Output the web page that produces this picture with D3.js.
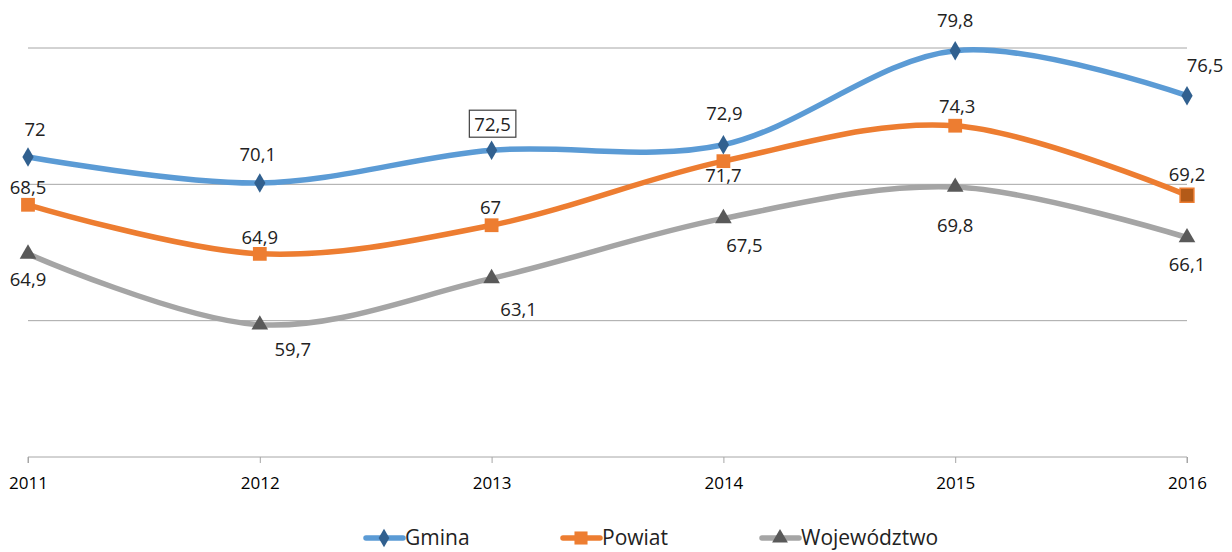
<!DOCTYPE html>
<html><head><meta charset="utf-8">
<script src="https://cdn.jsdelivr.net/npm/d3@7"></script>
<style>body{margin:0;background:#fff}svg{display:block}</style>
</head><body>
<svg id="c" width="1232" height="552"></svg>
<script>
const years = ["2011","2012","2013","2014","2015","2016"];
const gmina = [72, 70.1, 72.5, 72.9, 79.8, 76.5];
const powiat = [68.5, 64.9, 67, 71.7, 74.3, 69.2];
const woj = [64.9, 59.7, 63.1, 67.5, 69.8, 66.1];
const gridValues = [60, 70, 80];
const seriesNames = ["Gmina", "Powiat", "Województwo"];

const svg = d3.select("#c");
const font = "'Open Sans', sans-serif";
const x = d3.scalePoint().domain(years).range([28, 1187]);
const y = d3.scaleLinear().domain([50, 80]).range([457, 48]);

svg.append("g").selectAll("line").data(gridValues).join("line")
  .attr("x1", 28).attr("x2", 1187)
  .attr("y1", d => y(d)).attr("y2", d => y(d))
  .attr("stroke", "#a6a6a6").attr("stroke-width", 1);

const xa = svg.append("g").attr("transform", `translate(0,${y(50)})`)
  .call(d3.axisBottom(x).tickSize(6).tickPadding(14));
xa.select(".domain").attr("stroke", "#a6a6a6").attr("d", `M28,6V0H1187V6`);
xa.selectAll(".tick line").attr("stroke", "#a6a6a6");
xa.selectAll("text").attr("font-family", font).attr("font-size", 17).attr("fill", "#000");

const line = d3.line().x((d, i) => x(years[i])).y(d => y(d)).curve(d3.curveCardinal.tension(0));

const series = [
  {name: "Gmina", vals: gmina, color: "#5B9BD5", mcolor: "#31608F", sym: d3.symbolDiamond},
  {name: "Powiat", vals: powiat, color: "#ED7D31", mcolor: "#ED7D31", sym: d3.symbolSquare},
  {name: "Województwo", vals: woj, color: "#A5A5A5", mcolor: "#595959", sym: d3.symbolTriangle}
];
const symSize = {Gmina: 110, Powiat: 190, "Województwo": 120};

[...series].reverse().forEach(s => {
  svg.append("path").datum(s.vals).attr("d", line)
    .attr("fill", "none").attr("stroke", s.color).attr("stroke-width", 5.5)
    .attr("stroke-linejoin", "round");
});
[...series].reverse().forEach(s => {
  svg.append("g").selectAll("path").data(s.vals).join("path")
    .attr("transform", (d, i) => `translate(${x(years[i])},${y(d)})`)
    .attr("d", d3.symbol().type(s.sym).size(symSize[s.name]))
    .attr("fill", (d, i) => (s.name === "Powiat" && i === 5) ? "#B35A18" : s.mcolor)
    .attr("stroke", (d, i) => (s.name === "Powiat" && i === 5) ? "#ED7D31" : "none")
    .attr("stroke-width", 1.5);
});

const offs = {
  Gmina: [[7,-26],[-2,-27],[1,-24],[1,-30],[0,-29],[18,-29]],
  Powiat: [[0,-16],[0,-15],[-1,-16],[0,16],[2,-18],[0,-19]],
  "Województwo": [[0,27],[33,26],[27,33],[21,29],[0,40],[0,29]]
};
const fmt = v => String(v).replace(".", ",");
const labelLayer = svg.append("g");
series.forEach(s => {
  s.vals.forEach((v, i) => {
    const o = offs[s.name][i];
    const g = labelLayer.append("g");
    const t = g.append("text")
      .attr("x", x(years[i]) + o[0]).attr("y", y(v) + o[1])
      .attr("text-anchor", "middle").attr("dominant-baseline", "middle")
      .attr("font-family", font).attr("font-size", 18.5).attr("fill", "#222")
      .text(fmt(v));
    if (s.name === "Gmina" && i === 2) {
      const b = t.node().getBBox();
      g.insert("rect", "text")
        .attr("x", b.x - 5).attr("y", b.y - 1).attr("width", b.width + 10).attr("height", b.height + 2)
        .attr("fill", "#fff").attr("stroke", "#404040").attr("stroke-width", 1.2);
    }
  });
});

const legX = [366, 563, 762];
series.forEach((s, k) => {
  const g = svg.append("g").attr("transform", `translate(${legX[k]},538)`);
  g.append("line").attr("x1", 0).attr("x2", 37).attr("y1", 0).attr("y2", 0)
    .attr("stroke", s.color).attr("stroke-width", 5.5).attr("stroke-linecap", "round");
  g.append("path").attr("transform", "translate(18,0)")
    .attr("d", d3.symbol().type(s.sym).size(symSize[s.name] * 0.9))
    .attr("fill", s.mcolor);
  g.append("text").attr("x", 39).attr("y", 1).attr("dominant-baseline", "middle")
    .attr("font-family", font).attr("font-size", 21).attr("fill", "#222").text(s.name);
});
</script>
</body></html>
